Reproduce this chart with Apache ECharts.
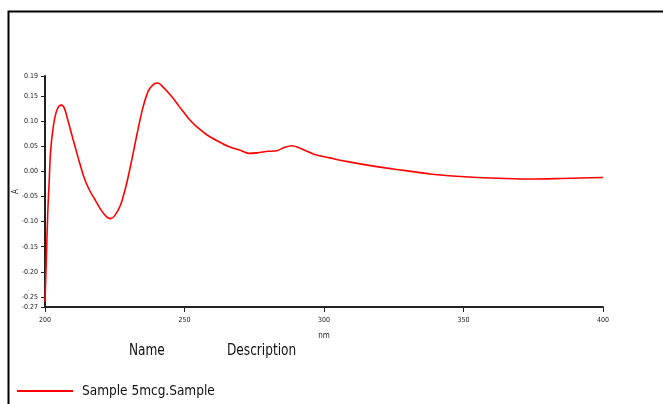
<!DOCTYPE html>
<html>
<head>
<meta charset="utf-8">
<script src="https://cdn.jsdelivr.net/npm/echarts@6/dist/echarts.min.js"></script>
<style>
  html, body { margin: 0; padding: 0; background: #fff; }
  #chart { width: 663px; height: 404px; }
</style>
</head>
<body>
<div id="chart"></div>
<script>
// wavelength (nm) and absorbance
var wavelengths = [200, 200.5, 201, 201.5, 202, 203, 204, 205, 206, 207, 208, 210, 212, 214, 216, 218, 220, 222, 223.5, 225, 227, 229, 231, 233, 235, 237, 239, 240.5, 242, 244, 246, 248, 250, 252, 255, 258, 262, 266, 270, 273, 276, 280, 283, 286, 288.5, 291, 294, 297, 302, 308, 315, 322, 330, 338, 346, 355, 365, 375, 385, 392, 400];
var absorbance = [-0.26, -0.17, -0.08, -0.02, 0.04, 0.09, 0.118, 0.130, 0.132, 0.125, 0.106, 0.065, 0.025, -0.012, -0.038, -0.057, -0.076, -0.090, -0.094, -0.088, -0.068, -0.030, 0.020, 0.075, 0.125, 0.160, 0.174, 0.176, 0.170, 0.158, 0.145, 0.130, 0.116, 0.102, 0.086, 0.073, 0.060, 0.049, 0.042, 0.036, 0.037, 0.040, 0.041, 0.048, 0.051, 0.047, 0.040, 0.033, 0.027, 0.020, 0.013, 0.007, 0.001, -0.005, -0.009, -0.012, -0.014, -0.015, -0.014, -0.013, -0.012];
var xTicks = [200, 250, 300, 350, 400];
var yTicks = [-0.27, -0.25, -0.20, -0.15, -0.10, -0.05, 0.00, 0.05, 0.10, 0.15, 0.19];
var seriesName = "Sample 5mcg.Sample";

var narrow = "'Liberation Sans Narrow', 'DejaVu Sans Condensed', sans-serif";

var chart = echarts.init(document.getElementById("chart"));
var points = wavelengths.map(function (w, i) { return [w, absorbance[i]]; });

var option = {
  animation: false,
  grid: { left: 45, right: 60, top: 76, bottom: 97, outerBoundsMode: "none", containLabel: false },
  legend: {
    left: 12,
    top: 379,
    icon: "rect",
    itemWidth: 56,
    itemHeight: 2,
    textStyle: { fontFamily: narrow, fontSize: 13.5, color: "#111", padding: [0, 0, 0, 4] },
    data: [seriesName]
  },
  xAxis: {
    type: "value",
    min: 200,
    max: 400,
    name: "nm",
    nameLocation: "middle",
    nameGap: 25,
    nameMoveOverlap: false,
    nameTextStyle: { fontFamily: narrow, fontSize: 8, color: "#222" },
    splitLine: { show: false },
    axisLine: { onZero: false, lineStyle: { color: "#222", width: 2 } },
    axisTick: { customValues: xTicks, length: 5, lineStyle: { color: "#222" } },
    axisLabel: { customValues: xTicks, fontFamily: narrow, fontSize: 7, color: "#222", margin: 10 }
  },
  yAxis: {
    type: "value",
    min: -0.27,
    max: 0.19,
    name: "A",
    nameLocation: "middle",
    nameRotate: 90,
    nameGap: 25,
    nameMoveOverlap: false,
    nameTextStyle: { fontFamily: narrow, fontSize: 8, color: "#222" },
    splitLine: { show: false },
    axisLine: { show: true, onZero: false, lineStyle: { color: "#222", width: 2 } },
    axisTick: { show: true, customValues: yTicks, length: 4, lineStyle: { color: "#222" } },
    axisLabel: {
      customValues: yTicks,
      fontFamily: narrow,
      fontSize: 7,
      color: "#222",
      margin: 7,
      formatter: function (v) { return v.toFixed(2); }
    }
  },
  series: [{
    name: seriesName,
    type: "line",
    data: points,
    smooth: 0.3,
    showSymbol: false,
    color: "#ff0000",
    lineStyle: { color: "#ff0000", width: 1.6 }
  }],
  graphic: [
    { type: "rect", left: 6, top: 9, shape: { width: 700, height: 420 }, style: { fill: "none", stroke: "#000", lineWidth: 2 }, silent: true },
    { type: "text", left: 129, top: 344, scaleX: 0.9, style: { text: "Name", font: "15px " + narrow, fill: "#111" } },
    { type: "text", left: 227, top: 344, scaleX: 0.9, style: { text: "Description", font: "15px " + narrow, fill: "#111" } }
  ]
};
chart.setOption(option);
</script>
</body>
</html>
